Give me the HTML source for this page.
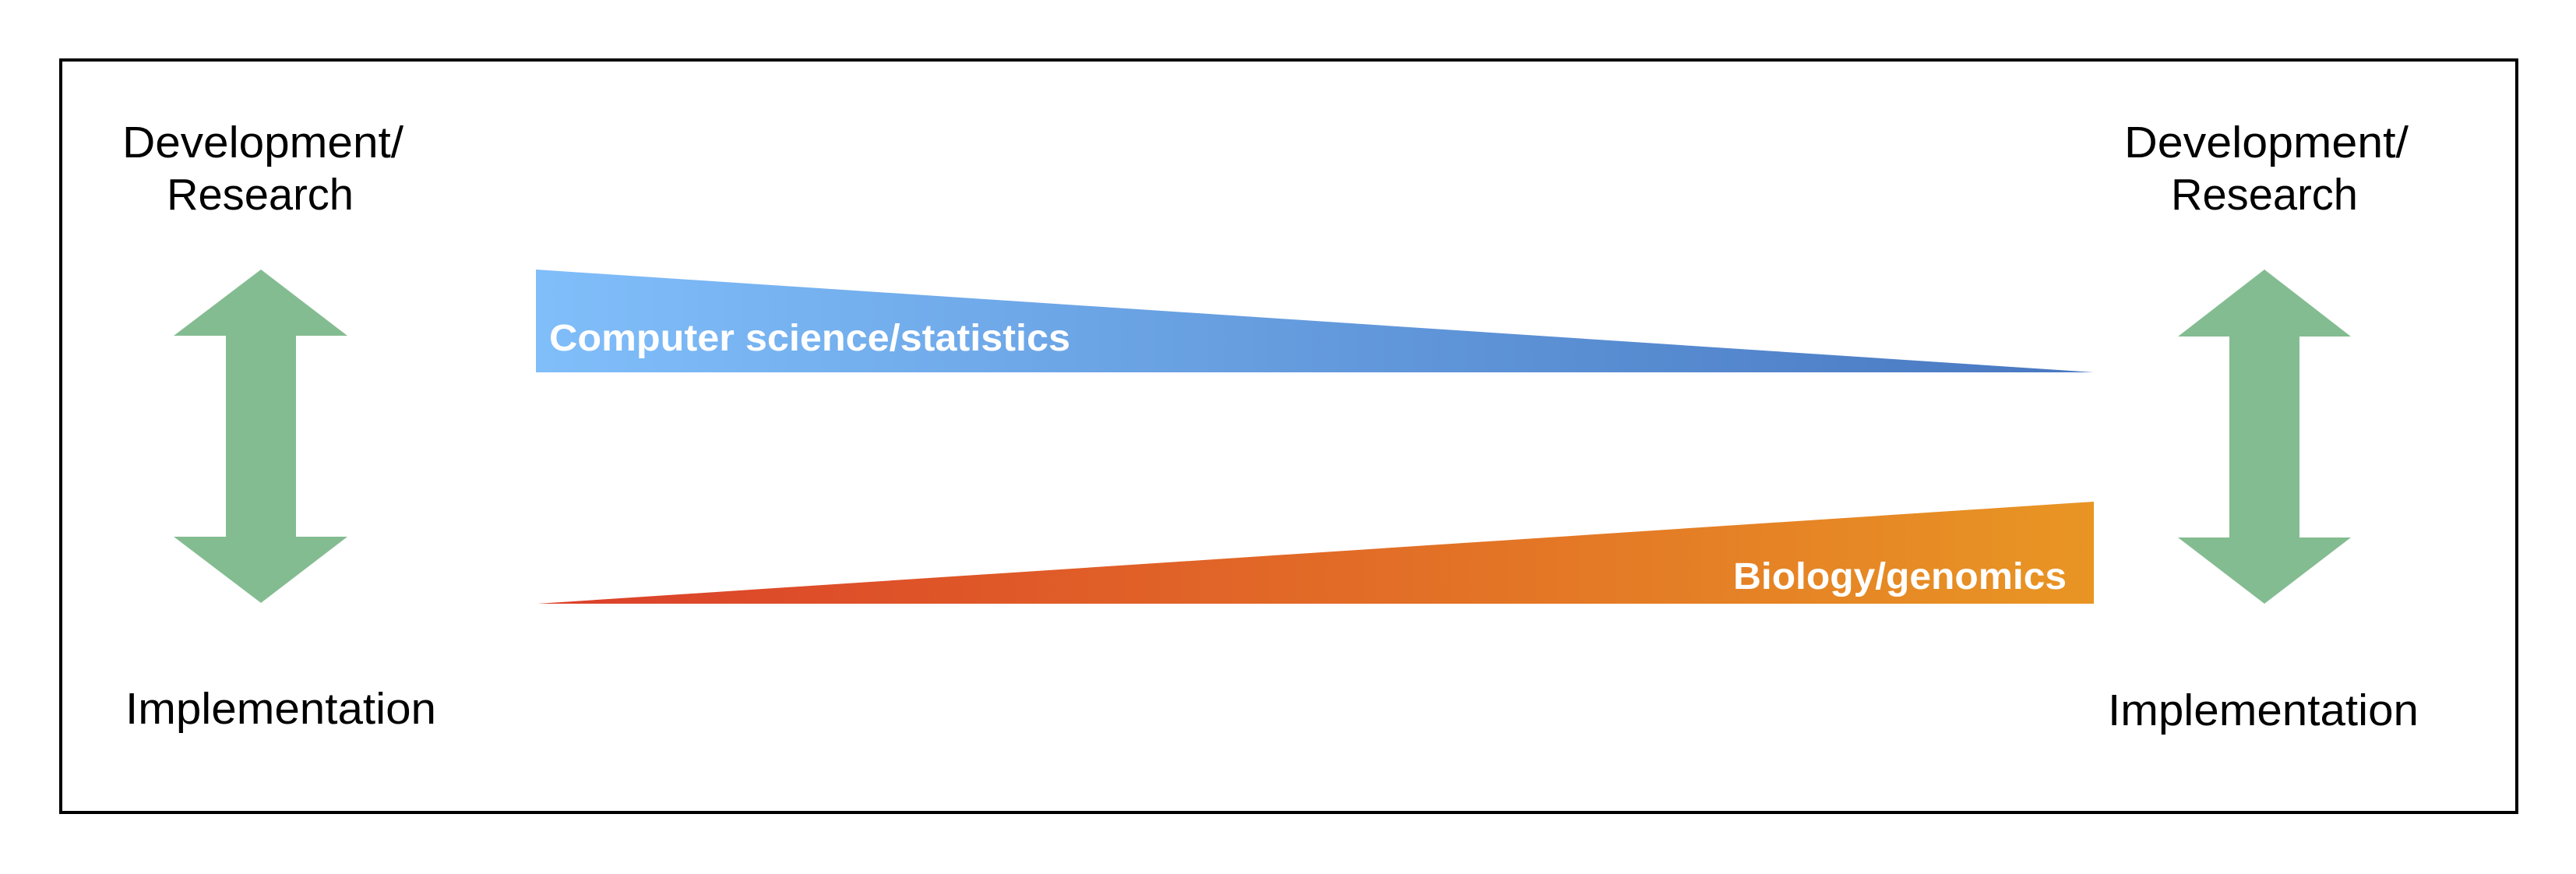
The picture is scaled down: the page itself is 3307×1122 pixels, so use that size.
<!DOCTYPE html>
<html><head><meta charset="utf-8"><style>
html,body{margin:0;padding:0;background:#fff;}
svg{display:block;}
text{font-family:"Liberation Sans",Arial,sans-serif;}
</style></head><body>
<svg width="3307" height="1122" viewBox="0 0 3307 1122">
<defs>
<linearGradient id="gb" x1="688" y1="0" x2="2688" y2="0" gradientUnits="userSpaceOnUse">
<stop offset="0" stop-color="#80befa"/><stop offset="1" stop-color="#4777c0"/></linearGradient>
<linearGradient id="go" x1="690" y1="0" x2="2688" y2="0" gradientUnits="userSpaceOnUse">
<stop offset="0" stop-color="#db3f2a"/><stop offset="1" stop-color="#e89524"/></linearGradient>
</defs>
<rect x="78" y="77" width="3153" height="966" fill="none" stroke="#000" stroke-width="4"/>

<g>
<text x="157" y="202" font-size="57" textLength="361" lengthAdjust="spacingAndGlyphs">Development/</text>
<text x="214" y="269" font-size="57" textLength="240" lengthAdjust="spacingAndGlyphs">Research</text>
<polygon points="335,346 446,431 380,431 380,689 446,689 335,774 223,689 290,689 290,431 223,431" fill="#84bc91"/>
<text x="161" y="929" font-size="57" textLength="399" lengthAdjust="spacingAndGlyphs">Implementation</text>
</g>

<g>
<text x="2727" y="202" font-size="57" textLength="365" lengthAdjust="spacingAndGlyphs">Development/</text>
<text x="2787" y="269" font-size="57" textLength="240" lengthAdjust="spacingAndGlyphs">Research</text>
<polygon points="2907,346 3018,432 2952,432 2952,690 3018,690 2907,775 2796,690 2862,690 2862,432 2796,432" fill="#84bc91"/>
<text x="2706" y="931" font-size="57" textLength="399" lengthAdjust="spacingAndGlyphs">Implementation</text>
</g>

<polygon points="688,346 2688,478 688,478" fill="url(#gb)"/>
<text x="705" y="450" font-size="48" font-weight="bold" fill="#fff" textLength="669" lengthAdjust="spacingAndGlyphs">Computer science/statistics</text>

<polygon points="690,775 2688,644 2688,775" fill="url(#go)"/>
<text x="2225" y="756" font-size="48" font-weight="bold" fill="#fff" textLength="428" lengthAdjust="spacingAndGlyphs">Biology/genomics</text>
</svg>
</body></html>
